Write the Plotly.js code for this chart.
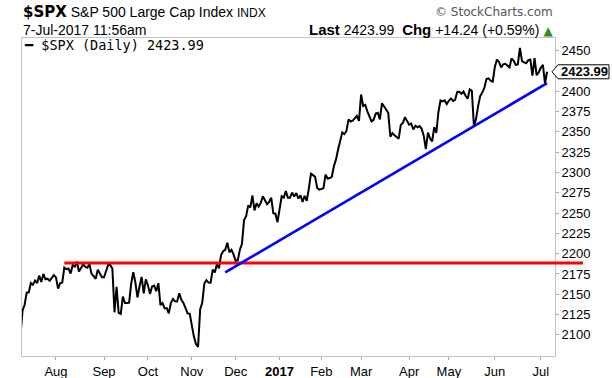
<!DOCTYPE html>
<html><head><meta charset="utf-8">
<script src="https://cdn.plot.ly/plotly-3.0.1.min.js"></script>
<style>html,body{margin:0;padding:0;background:#fff;} #chart{width:612px;height:378px;}</style>
</head><body><div id="chart"></div>
<script>
// ---- data ----
const firstDate = '2016-07-07';
const holidays = ['2016-09-05','2016-11-24','2016-12-26','2017-01-02','2017-01-16','2017-02-20','2017-04-14','2017-05-29','2017-07-04'];
const closesJul16 = [2097.90,2129.90,2137.16,2152.14,2152.43,2163.75,2161.74,2166.89,2163.78,2173.02,2165.17,2175.03,2168.48,2169.18,2166.58,2170.06,2173.60];
const closesAug16 = [2170.84,2157.03,2163.79,2164.25,2182.87,2180.89,2181.74,2175.49,2185.79,2184.05,2190.15,2178.15,2182.22,2187.02,2183.87,2182.64,2186.90,2175.44,2172.47,2169.04,2180.38,2176.12,2170.95];
const closesSep16 = [2170.86,2179.98,2186.48,2186.16,2181.30,2127.81,2159.04,2127.02,2125.77,2147.26,2139.16,2139.12,2139.76,2163.12,2177.18,2164.69,2146.10,2159.93,2171.37,2151.13,2168.27];
const closesOct16 = [2161.20,2150.49,2159.73,2160.77,2153.74,2163.66,2136.73,2139.18,2132.55,2132.98,2126.50,2139.60,2144.29,2141.34,2141.16,2151.33,2143.16,2139.43,2133.04,2126.41,2126.15];
const closesNov16 = [2111.72,2097.94,2088.66,2085.18,2131.52,2139.56,2163.26,2167.48,2164.45,2164.20,2180.39,2176.94,2187.12,2181.90,2198.18,2202.94,2204.72,2213.35,2201.72,2204.66,2198.81];
const closesDec16 = [2191.08,2191.95,2204.71,2212.23,2241.35,2246.19,2259.53,2256.96,2271.72,2253.28,2262.03,2258.07,2262.53,2270.76,2265.18,2260.96,2263.79,2268.88,2249.92,2249.26,2238.83];
const closesJan17 = [2257.83,2270.75,2269.00,2276.98,2268.90,2268.90,2275.32,2270.44,2274.64,2267.89,2271.89,2263.69,2271.31,2265.20,2280.07,2298.37,2296.68,2294.69,2280.90,2278.87];
const closesFeb17 = [2279.55,2280.85,2297.42,2292.56,2293.08,2294.67,2307.87,2316.10,2328.25,2337.58,2349.25,2347.22,2351.16,2365.38,2362.82,2363.81,2367.34,2369.75,2363.64];
const closesMar17 = [2395.96,2381.92,2383.12,2375.31,2368.39,2362.98,2364.87,2372.60,2373.47,2365.45,2385.26,2381.38,2378.25,2373.47,2344.02,2348.45,2345.96,2343.98,2341.59,2358.57,2361.13,2368.06,2362.72];
const closesApr17 = [2358.84,2360.16,2352.95,2357.49,2355.54,2357.16,2353.78,2344.93,2328.95,2349.01,2342.19,2338.17,2355.84,2348.69,2374.15,2388.61,2387.45,2388.77,2384.20];
const closesMay17 = [2388.33,2391.17,2388.13,2389.52,2399.29,2399.38,2396.92,2399.63,2394.44,2390.90,2402.32,2400.67,2357.03,2365.72,2381.73,2394.02,2398.42,2404.39,2415.07,2415.82,2412.91,2411.80];
const closesJun17 = [2430.06,2439.07,2436.10,2429.33,2433.14,2433.79,2431.77,2429.39,2440.35,2437.92,2432.46,2433.15,2453.46,2437.03,2435.61,2434.50,2438.30,2439.07,2419.38,2440.69,2419.70,2423.41];
const closesJul17 = [2429.01,2432.54,2409.75,2423.99];

const tickDates = ['2016-08-01','2016-09-01','2016-10-03','2016-11-01','2016-12-01','2017-01-03','2017-02-01','2017-03-01','2017-04-03','2017-05-01','2017-06-01','2017-07-03'];
const tickLabels = ['Aug','Sep','Oct','Nov','Dec','<b>2017</b>','Feb','Mar','Apr','May','Jun','Jul'];
const yTicks = [2100,2125,2150,2175,2200,2225,2250,2275,2300,2325,2350,2375,2400,2450];

const supportDates = ['2016-08-05','2017-07-31'];
const supportValues = [2188.5,2188.5];
const trendDates = ['2016-11-23','2017-07-07'];
const trendValues = [2177,2410];
const lastValue = 2423.99;

// ---- build ----
const closes = [].concat(closesJul16,closesAug16,closesSep16,closesOct16,closesNov16,closesDec16,
  closesJan17,closesFeb17,closesMar17,closesApr17,closesMay17,closesJun17,closesJul17);

function tradingDates(start, n, hol){
  const out = [];
  const p = start.split('-').map(Number);
  let t = Date.UTC(p[0], p[1]-1, p[2]);
  while(out.length < n){
    const d = new Date(t);
    const s = d.toISOString().slice(0,10);
    const wd = d.getUTCDay();
    if(wd !== 0 && wd !== 6 && hol.indexOf(s) < 0) out.push(s);
    t += 86400000;
  }
  return out;
}
const dates = tradingDates(firstDate, closes.length, holidays);

const traces = [
  {x:dates, y:closes, type:'scatter', mode:'lines', line:{color:'#000', width:2}},
  {x:supportDates, y:supportValues, type:'scatter', mode:'lines', line:{color:'#ff0000', width:3}},
  {x:trendDates, y:trendValues, type:'scatter', mode:'lines', line:{color:'#0000ff', width:2.7}}
];

const F = 'DejaVu Sans, sans-serif';
const A = 'Liberation Sans, Arial, sans-serif';

const layout = {
  width:612, height:378,
  margin:{l:22, r:57, t:38, b:22, pad:0},
  paper_bgcolor:'#fff', plot_bgcolor:'#fff',
  showlegend:false, hovermode:false,
  font:{family:A, size:13, color:'#000'},
  xaxis:{
    type:'date', range:['2016-07-07 18:00','2017-07-12 19:00'],
    rangebreaks:[{bounds:['sat','mon']},{values:holidays}],
    tickmode:'array', tickvals:tickDates, ticktext:tickLabels,
    ticks:'outside', ticklen:3, tickcolor:'#aaa', tickfont:{family:A, size:13, color:'#000'},
    showgrid:false, zeroline:false, showline:true, mirror:true, linecolor:'#c4c4c4', linewidth:1
  },
  yaxis:{
    side:'right', range:[2074,2465.6],
    tickmode:'array', tickvals:yTicks,
    ticks:'outside', ticklen:3, tickcolor:'#aaa', tickfont:{family:A, size:13, color:'#000'},
    showgrid:false, zeroline:false, showline:true, mirror:true, linecolor:'#c4c4c4', linewidth:1
  },
  shapes:[
    {type:'line', xref:'paper', yref:'y', x0:1, x1:1.0525, y0:supportValues[1], y1:supportValues[1], line:{color:'#ff0000', width:3}},
    {type:'path', xref:'paper', yref:'y', xsizemode:'pixel', ysizemode:'pixel', xanchor:1, yanchor:lastValue,
     path:'M-3,0L3,7L54,7L54,-7L3,-7Z', fillcolor:'#fff', line:{color:'#000', width:1}}
  ],
  annotations:[
    {xref:'paper', yref:'paper', x:0, xshift:-1, y:1.081, xanchor:'left', yanchor:'middle', showarrow:false,
     text:'<span style="font-family:DejaVu Sans;font-size:15px"><b>$SPX</b></span> S&amp;P 500 Large Cap Index <span style="font-size:12px">INDX</span>',
     font:{family:A, size:14, color:'#000'}},
    {xref:'paper', yref:'paper', x:0, xshift:-1, y:1.0265, xanchor:'left', yanchor:'middle', showarrow:false,
     text:'7-Jul-2017 11:56am', font:{family:A, size:14, color:'#000'}},
    {xref:'paper', yref:'paper', x:1, y:1.081, xanchor:'right', yanchor:'middle', showarrow:false,
     text:'© StockCharts.com', font:{family:F, size:12, color:'#555'}},
    {xref:'paper', yref:'paper', x:1, y:1.0265, xanchor:'right', yanchor:'middle', showarrow:false,
     text:'<span style="font-size:15px"><b>Last</b></span> 2423.99 &nbsp;<span style="font-size:15px"><b>Chg</b></span> +14.24 (+0.59%) <span style="color:#2e8b2e;font-family:DejaVu Sans;font-size:12px">▲</span>',
     font:{family:A, size:14, color:'#000'}},
    {xref:'paper', yref:'paper', x:0, xshift:0, y:0.978, xanchor:'left', yanchor:'middle', showarrow:false,
     text:'━ $SPX (Daily) 2423.99', font:{family:'DejaVu Sans Mono, monospace', size:13.5, color:'#000'}},
    {xref:'paper', yref:'y', x:1, xshift:29, y:lastValue, xanchor:'center', yanchor:'middle', showarrow:false,
     text:'<b>2423.99</b>', font:{family:A, size:13, color:'#000'}}
  ]
};

Plotly.newPlot('chart', traces, layout, {displayModeBar:false, staticPlot:true});
</script>
</body></html>
